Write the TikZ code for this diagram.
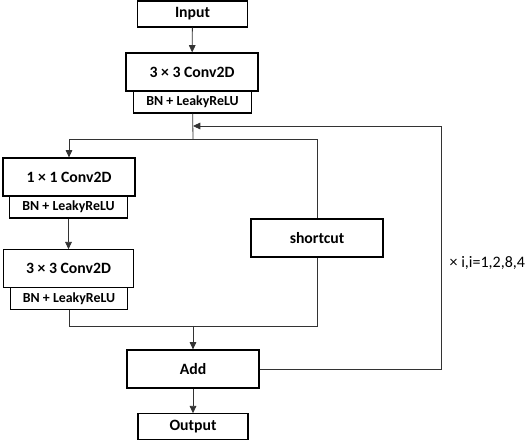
\documentclass[tikz,border=0pt]{standalone}
\usepackage{fontspec}
\setmainfont{Carlito}
\usetikzlibrary{arrows.meta}

\begin{document}
\begin{tikzpicture}[x=0.75pt,y=-0.75pt,
    box/.style={draw, line width=0.9pt, rectangle, inner sep=0pt, font=\bfseries\fontsize{11.8}{13}\selectfont},
    bnbox/.style={draw, line width=0.9pt, rectangle, inner sep=0pt, minimum width=88pt, minimum height=16.5pt, font=\bfseries\fontsize{10.4}{12}\selectfont},
    conn/.style={line width=0.6pt, draw=black!80},
    arr/.style={conn, -{Triangle[length=5.5pt,width=5pt]}}]
      \useasboundingbox (0,0) rectangle (526,442);
      % main column
      \node[box, minimum width=83pt, minimum height=19.5pt] (in) at (192.5,14) {Input};
      \node[box, minimum width=99pt, minimum height=28.5pt] (c1) at (192,72) {3 × 3 Conv2D};
      \node[bnbox] (bn1) at (192.5,102) {BN + LeakyReLU};
      \coordinate (back) at (193,126);
      \coordinate (split) at (193,139);
      % residual branch
      \node[box, minimum width=99pt, minimum height=28.5pt] (c11) at (69,177) {1 × 1 Conv2D};
      \node[bnbox] (bn2) at (68.5,207) {BN + LeakyReLU};
      \node[box, minimum width=98pt, minimum height=28pt] (c33) at (68.5,268.5) {3 × 3 Conv2D};
      \node[bnbox] (bn3) at (69,298.5) {BN + LeakyReLU};
      \node[box, minimum width=99pt, minimum height=28.5pt] (sc) at (317,238) {shortcut};
      \coordinate (merge) at (193,326);
      \node[box, minimum width=99pt, minimum height=28.5pt] (add) at (193,369) {Add};
      \node[box, minimum width=82.5pt, minimum height=19pt] (out) at (193,426.5) {Output};
      \coordinate (corner) at (441,126);
      \node[font=\fontsize{12}{13}\selectfont, anchor=west] (rep) at (445,263) {× i,i=1,2,8,4};
      % connectors
      \draw[arr] (in) -- (c1);
      \draw[conn] (bn1) -- (split);
      \draw[arr] (split) -| (c11);
      \draw[conn] (split) -| (sc);
      \draw[arr] (bn2) -- (c33);
      \draw[conn] (bn3) |- (merge);
      \draw[conn] (sc) |- (merge);
      \draw[arr] (merge) -- (add);
      \draw[arr] (add) -- (out);
      \draw[arr] (add.east) -| (corner) -- (back);
\end{tikzpicture}
\end{document}
